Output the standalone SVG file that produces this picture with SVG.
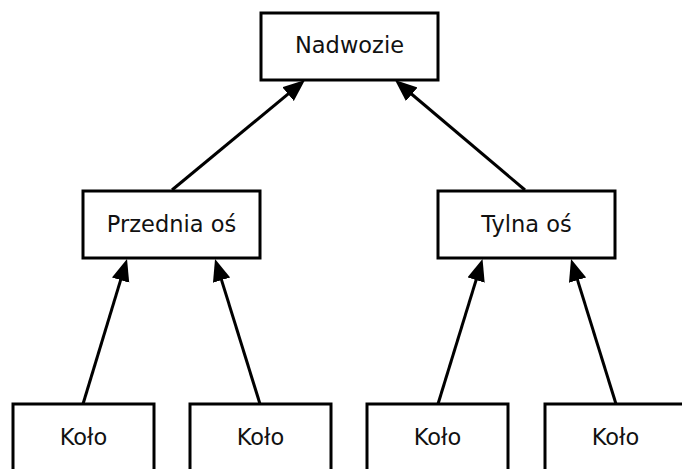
<svg xmlns="http://www.w3.org/2000/svg" width="682" height="469" viewBox="0 0 682 469">
  <style>
    .box { fill: #ffffff; stroke: #000000; stroke-width: 3; }
    .label { font-family: "DejaVu Sans", "Liberation Sans", sans-serif; font-size: 22.5px; fill: #111111; text-anchor: middle; }
    .edge { stroke: #000000; stroke-width: 3; fill: none; marker-end: url(#head); }
  </style>
  <defs>
    <marker id="head" markerUnits="userSpaceOnUse" markerWidth="24" markerHeight="20" refX="12" refY="9" orient="auto">
      <path d="M0,0 L22,9 L0,18 z" fill="#000000"/>
    </marker>
  </defs>
  <rect width="682" height="469" fill="#ffffff"/>

  <g id="connectors">
    <line class="edge" x1="172" y1="190" x2="297.3" y2="86.4"/>
    <line class="edge" x1="525" y1="190" x2="402.6" y2="86.5"/>
    <line class="edge" x1="83" y1="404" x2="124.1" y2="268.6"/>
    <line class="edge" x1="260" y1="404" x2="218" y2="268.6"/>
    <line class="edge" x1="438" y1="404" x2="479.6" y2="268.6"/>
    <line class="edge" x1="616" y1="404" x2="574" y2="268.6"/>
  </g>

  <g id="nadwozie">
    <rect class="box" x="261" y="13" width="177" height="67"/>
    <text class="label" x="349.5" y="53">Nadwozie</text>
  </g>
  <g id="przednia-os">
    <rect class="box" x="83" y="191" width="177" height="67"/>
    <text class="label" x="171.5" y="232">Przednia oś</text>
  </g>
  <g id="tylna-os">
    <rect class="box" x="438" y="191" width="177" height="67"/>
    <text class="label" x="526.5" y="232">Tylna oś</text>
  </g>
  <g id="kolo-1">
    <rect class="box" x="13" y="404" width="141" height="67"/>
    <text class="label" x="83.5" y="445">Koło</text>
  </g>
  <g id="kolo-2">
    <rect class="box" x="190" y="404" width="141" height="67"/>
    <text class="label" x="260.5" y="445">Koło</text>
  </g>
  <g id="kolo-3">
    <rect class="box" x="367" y="404" width="141" height="67"/>
    <text class="label" x="437.5" y="445">Koło</text>
  </g>
  <g id="kolo-4">
    <rect class="box" x="545" y="404" width="141" height="67"/>
    <text class="label" x="615.5" y="445">Koło</text>
  </g>
</svg>
